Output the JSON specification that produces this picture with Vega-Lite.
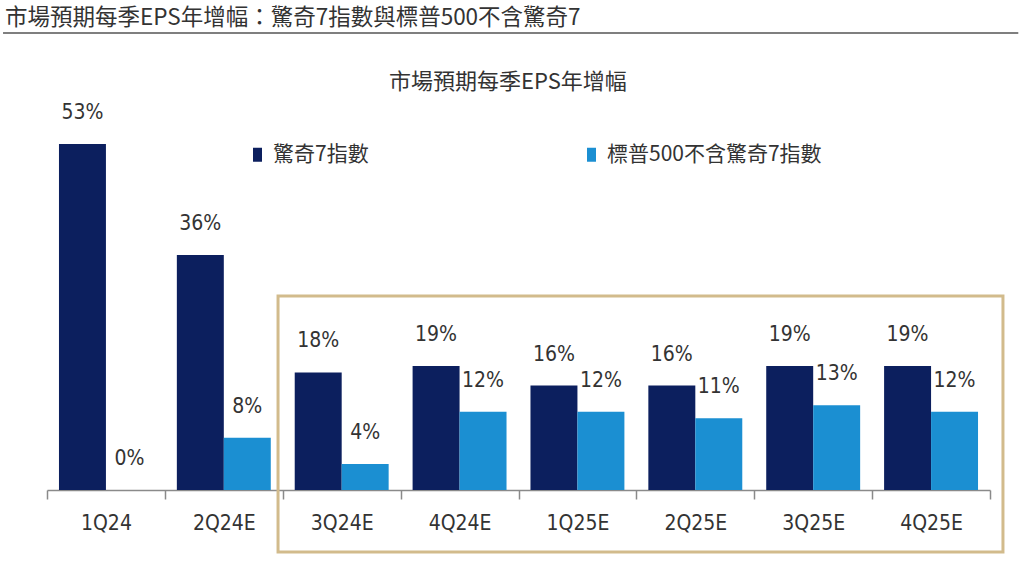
{
  "$schema": "https://vega.github.io/schema/vega-lite/v6.json",
  "width": 943,
  "height": 457,
  "autosize": "none",
  "padding": {"left": 47, "top": 33, "right": 34, "bottom": 71},
  "background": "white",
  "config": {"view": {"stroke": null}},
  "title": {
    "text": "市場預期每季EPS年增幅：驚奇7指數與標普500不含驚奇7",
    "anchor": "start",
    "frame": "group",
    "font": "Noto Sans CJK TC",
    "fontSize": 22.5,
    "fontWeight": "normal",
    "color": "#333333",
    "dx": -42,
    "offset": 3
  },
  "resolve": {"scale": {"x": "independent"}},
  "layer": [
    {
      "data": {
        "values": [
          {"q": "1Q24", "s": "驚奇7指數", "v": 53, "label": "53%"},
          {"q": "1Q24", "s": "標普500不含驚奇7指數", "v": 0, "label": "0%"},
          {"q": "2Q24E", "s": "驚奇7指數", "v": 36, "label": "36%"},
          {"q": "2Q24E", "s": "標普500不含驚奇7指數", "v": 8, "label": "8%"},
          {"q": "3Q24E", "s": "驚奇7指數", "v": 18, "label": "18%"},
          {"q": "3Q24E", "s": "標普500不含驚奇7指數", "v": 4, "label": "4%"},
          {"q": "4Q24E", "s": "驚奇7指數", "v": 19, "label": "19%"},
          {"q": "4Q24E", "s": "標普500不含驚奇7指數", "v": 12, "label": "12%"},
          {"q": "1Q25E", "s": "驚奇7指數", "v": 16, "label": "16%"},
          {"q": "1Q25E", "s": "標普500不含驚奇7指數", "v": 12, "label": "12%"},
          {"q": "2Q25E", "s": "驚奇7指數", "v": 16, "label": "16%"},
          {"q": "2Q25E", "s": "標普500不含驚奇7指數", "v": 11, "label": "11%"},
          {"q": "3Q25E", "s": "驚奇7指數", "v": 19, "label": "19%"},
          {"q": "3Q25E", "s": "標普500不含驚奇7指數", "v": 13, "label": "13%"},
          {"q": "4Q25E", "s": "驚奇7指數", "v": 19, "label": "19%"},
          {"q": "4Q25E", "s": "標普500不含驚奇7指數", "v": 12, "label": "12%"}
        ]
      },
      "encoding": {
        "x": {
          "field": "q",
          "type": "nominal",
          "sort": null,
          "scale": {"paddingInner": 0, "paddingOuter": 0},
          "axis": {
            "title": null,
            "labelAngle": 0,
            "domainColor": "#8a8a8a",
            "domainWidth": 1.5,
            "tickColor": "#8a8a8a",
            "tickWidth": 1.5,
            "tickSize": 9,
            "tickBand": "extent",
            "grid": false,
            "labelFont": "Liberation Sans Narrow, DejaVu Sans Condensed, sans-serif",
            "labelFontSize": 21,
            "labelColor": "#333333",
            "labelPadding": 13
          }
        },
        "xOffset": {
          "field": "s",
          "type": "nominal",
          "sort": ["驚奇7指數", "標普500不含驚奇7指數"],
          "scale": {"paddingInner": 0, "paddingOuter": 0.255}
        },
        "y": {
          "field": "v",
          "type": "quantitative",
          "scale": {"domain": [0, 70], "nice": false, "zero": true},
          "axis": null
        }
      },
      "layer": [
        {
          "mark": {"type": "bar"},
          "encoding": {
            "color": {
              "field": "s",
              "type": "nominal",
              "sort": ["驚奇7指數", "標普500不含驚奇7指數"],
              "scale": {"domain": ["驚奇7指數", "標普500不含驚奇7指數"], "range": ["#0c1f5e", "#1b8fd2"]},
              "legend": {
                "title": null,
                "orient": "none",
                "direction": "horizontal",
                "legendX": 200,
                "legendY": 111,
                "columnPadding": 212,
                "labelFont": "Noto Sans CJK TC",
                "labelFontSize": 21,
                "labelColor": "#333333",
                "labelOffset": 5,
                "labelLimit": 400,
                "symbolType": "M-0.64,-1H0.64V1H-0.64Z",
                "symbolSize": 196,
                "symbolStrokeWidth": 0
              }
            }
          }
        },
        {
          "mark": {
            "type": "text",
            "baseline": "middle",
            "align": "center",
            "dy": -31,
            "font": "Liberation Sans Narrow, DejaVu Sans Condensed, sans-serif",
            "fontSize": 21,
            "color": "#333333"
          },
          "encoding": {"text": {"field": "label"}}
        }
      ]
    },
    {
      "data": {"values": [{"a": 1}]},
      "layer": [
        {
          "mark": {"type": "rect", "fill": null, "stroke": "#d2bb8c", "strokeWidth": 3, "clip": false},
          "encoding": {
            "x": {"datum": 1.96, "type": "quantitative", "scale": {"domain": [0, 8], "nice": false, "zero": false}, "axis": null},
            "x2": {"datum": 8.11},
            "y": {"datum": 29.7, "type": "quantitative"},
            "y2": {"datum": -9.5}
          }
        },
        {
          "mark": {"type": "rule", "stroke": "#555555", "strokeWidth": 1.5, "clip": false},
          "encoding": {
            "x": {"datum": -0.373, "type": "quantitative", "scale": {"domain": [0, 8], "nice": false, "zero": false}, "axis": null},
            "x2": {"datum": 8.24},
            "y": {"datum": 70, "type": "quantitative"}
          }
        },
        {
          "mark": {
            "type": "text",
            "align": "center",
            "baseline": "middle",
            "font": "Noto Sans CJK TC",
            "fontSize": 22,
            "color": "#333333",
            "clip": false
          },
          "encoding": {
            "x": {"datum": 3.91, "type": "quantitative", "scale": {"domain": [0, 8], "nice": false, "zero": false}, "axis": null},
            "y": {"datum": 62.5, "type": "quantitative"},
            "text": {"value": "市場預期每季EPS年增幅"}
          }
        }
      ]
    }
  ]
}
